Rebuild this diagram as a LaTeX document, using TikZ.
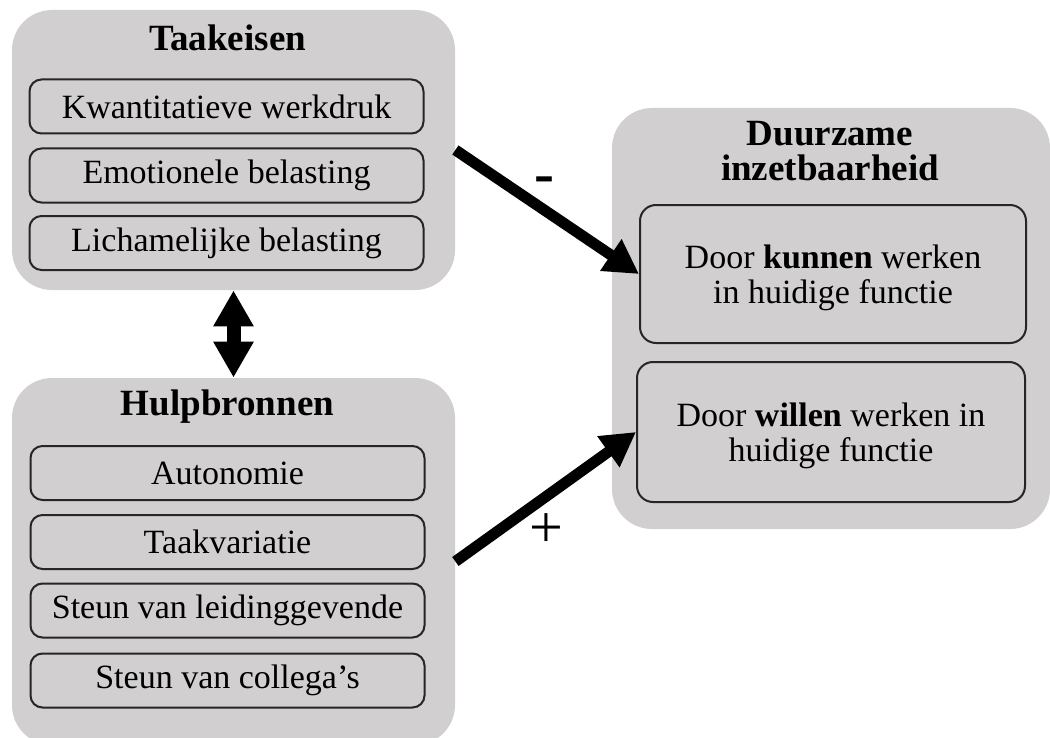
\documentclass[tikz,border=0pt]{standalone}
\usepackage{fontspec}
\setmainfont{Liberation Serif}
\usepackage{xcolor}
\usetikzlibrary{arrows.meta,positioning}
\definecolor{panelgray}{RGB}{209,207,208}

\begin{document}
\begin{tikzpicture}[x=0.5pt,y=-0.5pt,
    panel/.style={fill=panelgray,rounded corners=20pt,inner sep=0pt},
    item/.style={draw=black!85,line width=1pt,fill=panelgray,rounded corners=6pt,
      minimum width=197pt,minimum height=27pt,inner sep=0pt,
      font=\fontsize{17}{17.5}\selectfont,align=center},
    heading/.style={font=\fontsize{18.5}{17.5}\selectfont\bfseries,align=center,inner sep=0pt},
    effect/.style={line width=5.5pt,-{Triangle[length=17pt,width=18pt]}},
    sign/.style={inner sep=0pt}]
    \useasboundingbox (0,0) rectangle (1050,738);

    \node[panel,minimum width=221.5pt,minimum height=140pt] (taakeisen) at (233.5,150) {};
    \node[panel,minimum width=221.5pt,minimum height=183.5pt] (hulpbronnen) at (233.5,561.5) {};
    \node[panel,minimum width=219pt,minimum height=210.5pt] (inzet) at (831,318.5) {};

    \node[heading,anchor=base] (taaktitel) at (227.5,51) {Taakeisen};
    \node[heading,anchor=base] (hulptitel) at (227.5,415) {Hulpbronnen};
    \node[heading] (inzettitel) at (830,151) {Duurzame\\inzetbaarheid};

    \node[item] (werkdruk) at (226.5,106.5) {Kwantitatieve werkdruk};
    \node[item] (emotioneel) at (226.5,175.5) {Emotionele belasting};
    \node[item] (lichamelijk) at (226.5,243) {Lichamelijke belasting};

    \node[item] (autonomie) at (227.5,473) {Autonomie};
    \node[item] (variatie) at (227.5,542) {Taakvariatie};
    \node[item] (leiding) at (227.5,610.5) {Steun van leidinggevende};
    \node[item] (collegas) at (227.5,680.5) {Steun van collega's};

    \node[item,minimum width=193pt,minimum height=69pt,rounded corners=8pt] (kunnen) at (833,274)
      {\raisebox{0pt}[16pt]{Door \textbf{kunnen} werken}\\in huidige functie};
    \node[item,minimum width=194pt,minimum height=70pt,rounded corners=8pt] (willen) at (831,432)
      {\raisebox{0pt}[16pt]{Door \textbf{willen} werken in}\\huidige functie};

    \draw[effect] (taakeisen.east) -- (kunnen.west);
    \draw[effect] (hulpbronnen.east) -- (willen.west);
    \draw[line width=7pt,{Triangle[length=18pt,width=19pt]}-{Triangle[length=18pt,width=19pt]}]
      (taakeisen.south) -- (hulpbronnen.north);

    \node[sign,font=\fontsize{30}{30}\selectfont\bfseries] (min) at (544,185) {-};
    \node[sign,font=\fontsize{30}{30}\selectfont] (plus) at (546,531) {+};
\end{tikzpicture}
\end{document}
